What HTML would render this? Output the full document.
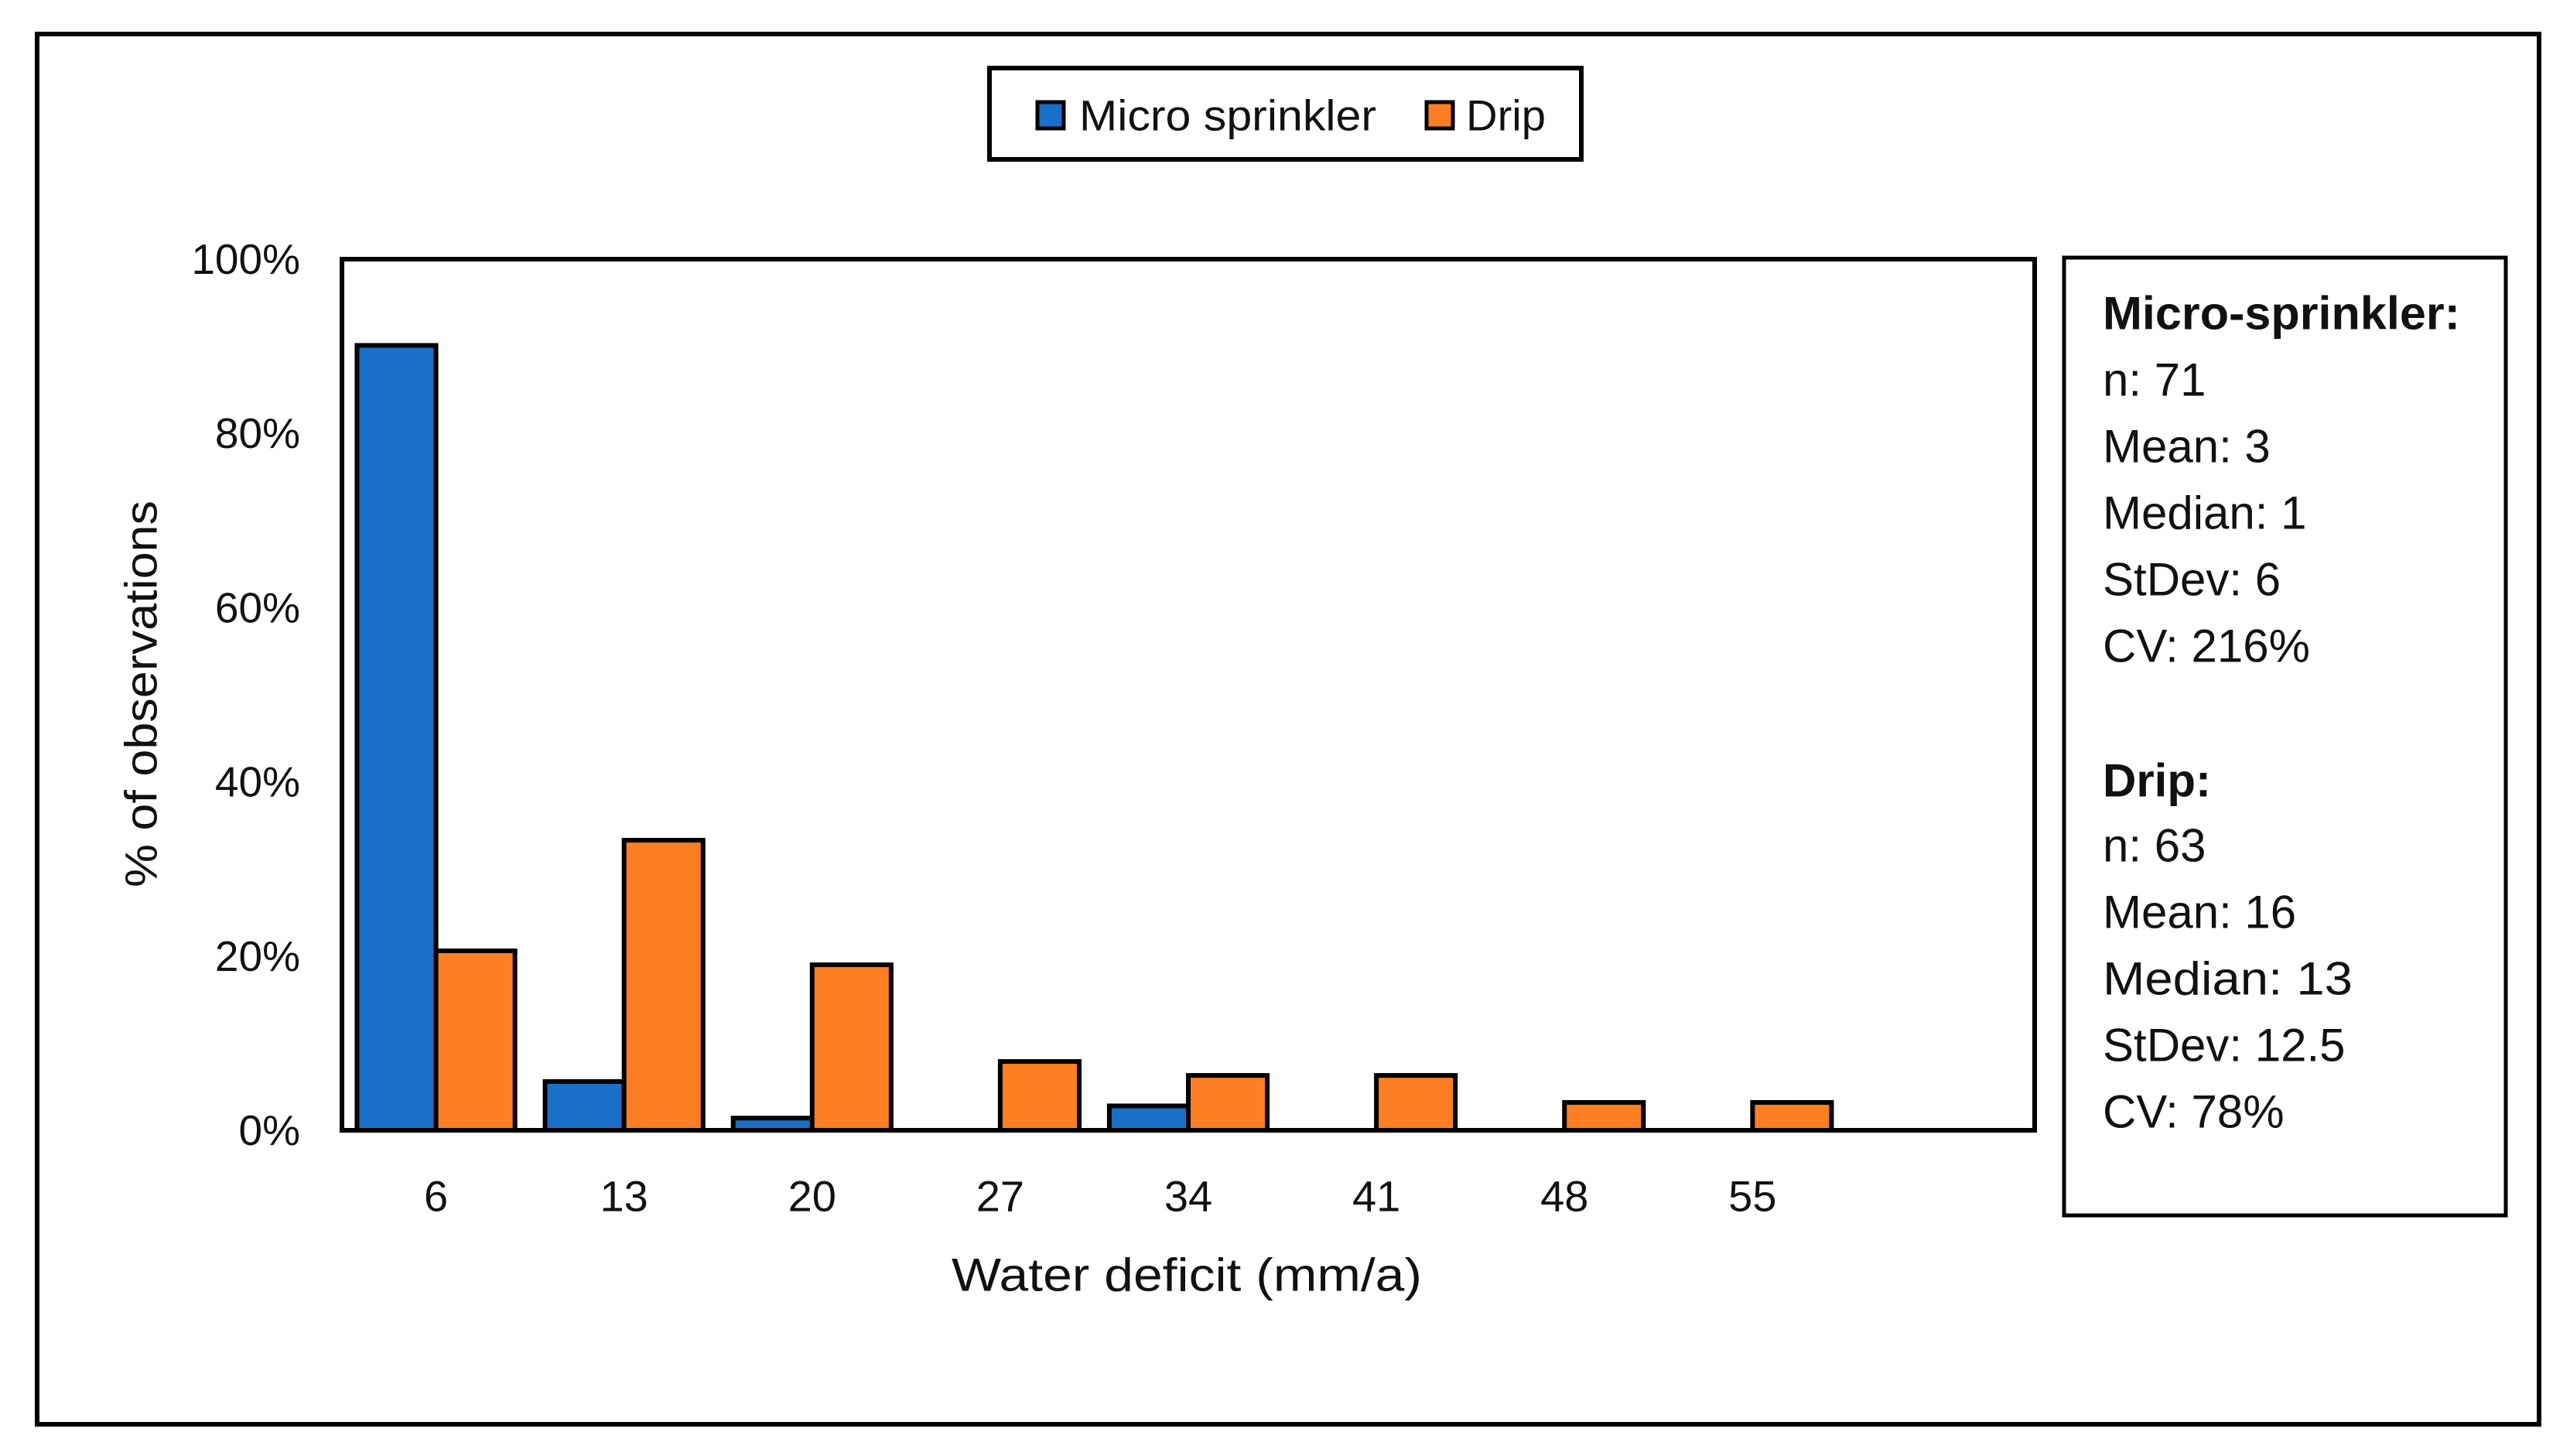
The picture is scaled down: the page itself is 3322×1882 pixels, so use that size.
<!DOCTYPE html>
<html><head><meta charset="utf-8">
<style>
html,body{margin:0;padding:0;background:#fff;}
svg{display:block;font-family:"Liberation Sans",sans-serif;}
</style></head>
<body>
<svg id="chart" width="3322" height="1882" viewBox="0 0 3322 1882" xmlns="http://www.w3.org/2000/svg">
<rect x="0" y="0" width="3322" height="1882" fill="#fff"/>
<rect x="48" y="44" width="3234" height="1797" fill="none" stroke="#000" stroke-width="6"/>
<g>
<rect x="1279" y="88" width="765" height="118" fill="#fff" stroke="#000" stroke-width="6"/>
<rect x="1341" y="132" width="34" height="34" fill="#1a70c8" stroke="#000" stroke-width="5"/>
<text x="1395" y="149" font-size="56" dominant-baseline="central" textLength="384" lengthAdjust="spacingAndGlyphs" fill="#111">Micro sprinkler</text>
<rect x="1844" y="132" width="34" height="34" fill="#fd7e23" stroke="#000" stroke-width="5"/>
<text x="1895" y="149" font-size="56" dominant-baseline="central" textLength="103" lengthAdjust="spacingAndGlyphs" fill="#111">Drip</text>
</g>
<g id="plot"></g>
<text transform="translate(183,897) rotate(-90)" text-anchor="middle" dominant-baseline="central" font-size="58" textLength="500" lengthAdjust="spacingAndGlyphs" fill="#111">% of observations</text>
<text x="1534" y="1648" text-anchor="middle" dominant-baseline="central" font-size="60" textLength="608" lengthAdjust="spacingAndGlyphs" fill="#111">Water deficit (mm/a)</text>
<g>
<rect x="2668" y="333" width="571" height="1238" fill="#fff" stroke="#000" stroke-width="5"/>
<g font-size="60" fill="#111" dominant-baseline="central">
<text x="2718" y="405" font-weight="bold" textLength="462" lengthAdjust="spacingAndGlyphs">Micro-sprinkler:</text>
<text x="2718" y="491">n: 71</text>
<text x="2718" y="577">Mean: 3</text>
<text x="2718" y="663">Median: 1</text>
<text x="2718" y="749">StDev: 6</text>
<text x="2718" y="835">CV: 216%</text>
<text x="2718" y="1009" font-weight="bold">Drip:</text>
<text x="2718" y="1093">n: 63</text>
<text x="2718" y="1179">Mean: 16</text>
<text x="2718" y="1265" textLength="323" lengthAdjust="spacingAndGlyphs">Median: 13</text>
<text x="2718" y="1351">StDev: 12.5</text>
<text x="2718" y="1437">CV: 78%</text>
</g>
</g>
</svg>
<script>
const categories = ["6","13","20","27","34","41","48","55",""];
const microValues = [90.1, 5.6, 1.4, 0, 2.8, 0, 0, 0, 0];
const dripValues = [20.6, 33.3, 19.0, 7.9, 6.3, 6.3, 3.2, 3.2, 0];
const yTicks = [0, 20, 40, 60, 80, 100];
const yTickLabels = ["0%","20%","40%","60%","80%","100%"];

const NS = "http://www.w3.org/2000/svg";
const L = 442, R = 2630, T = 335, B = 1461;
const plot = document.getElementById("plot");
function y(v){ return B - (v/100)*(B-T); }
function xBand(i){ return L + i*(R-L)/categories.length; }
const band = (R-L)/categories.length;
const barW = band*0.42;
function mk(tag, attrs){ const e=document.createElementNS(NS,tag); for(const k in attrs) e.setAttribute(k,attrs[k]); plot.appendChild(e); return e; }

yTicks.forEach((t,i)=>{
  const lb = mk("text",{x:388,y:y(t),"text-anchor":"end","dominant-baseline":"central","font-size":"55",fill:"#111"});
  lb.textContent = yTickLabels[i];
  
  
});
categories.forEach((c,i)=>{
  const cx = xBand(i) + band/2;
  const lb = mk("text",{x:cx,y:1546,"text-anchor":"middle","dominant-baseline":"central","font-size":"56",fill:"#111"});
  lb.textContent = c;
  
  
  if (microValues[i] > 0) {
    const b = mk("rect",{x:cx-barW,y:y(microValues[i]),width:barW,height:B-y(microValues[i]),fill:"#1a70c8",stroke:"#000","stroke-width":"6"});
    
    
  }
  if (dripValues[i] > 0) {
    const b2 = mk("rect",{x:cx,y:y(dripValues[i]),width:barW,height:B-y(dripValues[i]),fill:"#fd7e23",stroke:"#000","stroke-width":"6"});
    
    
  }
});
const frame = mk("rect",{x:L,y:T,width:R-L,height:B-T,fill:"none",stroke:"#000","stroke-width":"6"});


</script>
</body></html>
